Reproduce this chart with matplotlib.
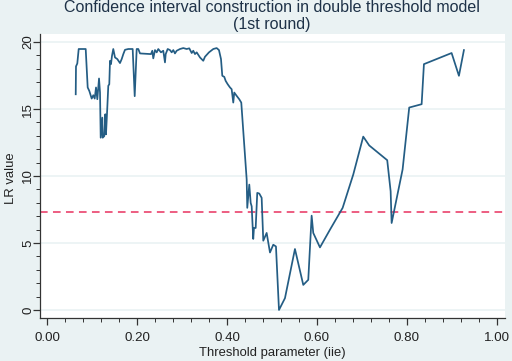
import numpy as np
import matplotlib
matplotlib.use("Agg")
import matplotlib.pyplot as plt
from matplotlib.ticker import MultipleLocator

plt.rcParams['font.family'] = ['Liberation Sans', 'DejaVu Sans']

# LR statistic vs threshold value
thr = [0.0638, 0.0644, 0.0673, 0.0704, 0.0762, 0.0860, 0.0904, 0.0940, 0.0993, 0.1029,
       0.1060, 0.1089, 0.1118, 0.1156, 0.1178, 0.1193, 0.1229, 0.1238, 0.1273, 0.1296,
       0.1311, 0.1340, 0.1362, 0.1384, 0.1400, 0.1422, 0.1444, 0.1473, 0.1511, 0.1562,
       0.1622, 0.1660, 0.1696, 0.1733, 0.1807, 0.1904, 0.1949, 0.1993, 0.2029, 0.2067,
       0.2311, 0.2340, 0.2362, 0.2400, 0.2438, 0.2473, 0.2533, 0.2584, 0.2622, 0.2638,
       0.2682, 0.2733, 0.2771, 0.2807, 0.2844, 0.2882, 0.2956, 0.3029, 0.3104, 0.3162,
       0.3216, 0.3251, 0.3289, 0.3327, 0.3400, 0.3473, 0.3511, 0.3600, 0.3696, 0.3771,
       0.3822, 0.3867, 0.3896, 0.3940, 0.3971, 0.4016, 0.4067, 0.4104, 0.4140, 0.4162,
       0.4216, 0.4273, 0.4318, 0.4438, 0.4451, 0.4496, 0.4527, 0.4549, 0.4584, 0.4600,
       0.4638, 0.4673, 0.4718, 0.4771, 0.4807, 0.4882, 0.4956, 0.5029, 0.5089, 0.5156,
       0.5289, 0.5511, 0.5696, 0.5807, 0.5882, 0.5918, 0.6067, 0.6289, 0.6571, 0.6807,
       0.7029, 0.7162, 0.7562, 0.7638, 0.7660, 0.7904, 0.8051, 0.8327, 0.8378, 0.8993,
       0.9156, 0.9267]
lr = [16.10, 18.18, 18.40, 19.48, 19.48, 19.48, 16.61, 16.35, 15.78, 16.03,
      15.78, 16.61, 15.73, 17.28, 16.23, 12.86, 14.36, 12.86, 12.98, 14.61,
      13.11, 15.11, 16.73, 16.85, 18.60, 18.35, 18.97, 19.48, 18.85, 18.73,
      18.43, 18.73, 19.10, 19.42, 19.48, 19.48, 15.96, 19.48, 19.48, 19.15,
      19.10, 19.35, 18.78, 19.40, 19.23, 19.48, 19.23, 19.35, 18.48, 19.10,
      19.48, 19.40, 19.23, 19.40, 19.15, 19.35, 19.48, 19.55, 19.48, 19.53,
      19.18, 19.35, 19.10, 19.23, 18.85, 18.60, 18.90, 19.23, 19.48, 19.55,
      19.40, 18.73, 17.48, 17.40, 17.10, 16.85, 16.61, 16.48, 15.48, 16.23,
      15.98, 15.73, 15.48, 9.74, 7.62, 9.36, 7.99, 7.74, 5.30, 6.12,
      6.12, 8.74, 8.69, 8.37, 5.17, 5.75, 4.29, 4.87, 4.74, 0.00,
      0.88, 4.55, 1.87, 2.25, 7.04, 5.75, 4.67, 5.99, 7.62, 10.11,
      12.94, 12.28, 11.18, 8.86, 6.49, 10.49, 15.11, 15.36, 18.35, 19.18,
      17.48, 19.40]
crit = 7.35

xticks = [0.0, 0.2, 0.4, 0.6, 0.8, 1.0]
yticks = [0, 5, 10, 15, 20]

bg = '#eaf2f3'
fig = plt.figure(figsize=(5.12, 3.61), dpi=100, facecolor=bg)
ax = fig.add_axes([40/512, 1 - 318/361, 465/512, 284/361])
ax.set_facecolor('white')

ax.plot(thr, lr, color='#245d84', lw=1.25, zorder=3)
ax.axhline(crit, color='#e8325f', lw=1.1, ls=(0, (5, 3.5)), zorder=2)

ax.set_xlim(-0.0156, 1.018)
ax.set_ylim(-0.6, 20.6)
ax.set_xticks(xticks)
ax.set_xticklabels([f"{v:.2f}" for v in xticks])
ax.set_yticks(yticks)
ax.set_yticklabels([str(v) for v in yticks], rotation=90, va='center')
ax.xaxis.set_minor_locator(MultipleLocator(0.04))
ax.yaxis.set_minor_locator(MultipleLocator(1))
ax.tick_params(which='major', length=5, width=0.9, colors='#333333', labelsize=9.6, labelcolor='#222222')
ax.tick_params(axis='x', which='major', pad=5)
ax.tick_params(axis='y', which='major', pad=-1)
ax.tick_params(which='minor', length=3, width=0.7, colors='#333333')
ax.grid(axis='y', color='#eaf2f3', lw=1.2, zorder=0)

for s in ['top', 'right']:
    ax.spines[s].set_visible(False)
for s in ['left', 'bottom']:
    ax.spines[s].set_color('#333333')
    ax.spines[s].set_linewidth(0.9)

ax.set_xlabel('Threshold parameter (iie)', fontsize=9.4, color='#222222', labelpad=2)
ax.set_ylabel('LR value', fontsize=9.4, color='#222222')
ax.yaxis.set_label_coords(-0.049, 0.493)
fig.text(272/512, 1 - 16/361, 'Confidence interval construction in double threshold model\n(1st round)',
         ha='center', va='center', fontsize=11.5, color='#1e3248', linespacing=1.1)

fig.savefig('out.png', dpi=100, facecolor=bg)
